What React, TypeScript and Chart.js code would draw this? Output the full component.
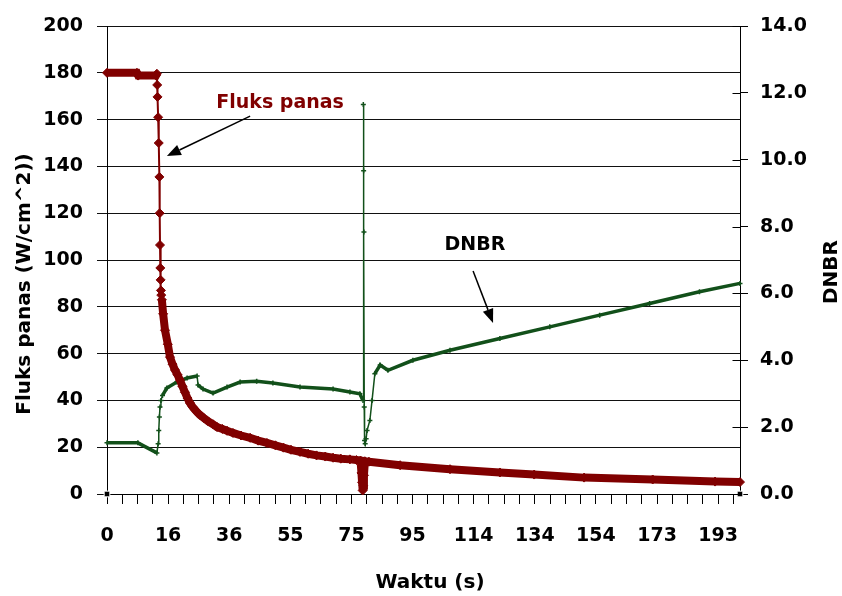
import React, { useEffect, useRef } from 'react';
import { Chart, registerables } from 'chart.js';

Chart.register(...registerables);

// ---- Axis data ----
const xTickLabels = ['0', '16', '36', '55', '75', '95', '114', '134', '154', '173', '193'];
const xLabelStep = 19.6;
const xMinorPerLabel = 4;
const xMax = 203;
const leftMax = 200;
const leftStep = 20;
const rightMax = 14;
const rightStep = 2;

// ---- Fluks panas (left axis) ----
const fluxTime = [
  0, 9.6, 10.0, 15.7, 16.0, 16.1, 16.2, 16.4, 16.6, 16.8, 16.9, 17.0, 17.1, 17.2, 17.3, 17.4, 17.6,
  18.0, 18.6, 19.5, 20.2, 21.0, 21.8, 22.6, 23.4, 24.2, 25.0, 25.8, 26.6, 27.4, 28.2, 29.0, 29.8,
  31.0, 32.5, 34.0, 35.3, 37.0, 38.5, 40.4, 43.0, 45.9, 48.5, 51.3, 54.0, 56.6, 59.0, 61.9, 64.5,
  67.2, 70.0, 72.5, 75.0, 77.9, 80.0, 81.3, 81.6, 81.8, 82.0, 82.2, 82.4, 82.7, 84.0, 94, 110, 126,
  137, 153, 175, 195, 203,
];
const fluxValue = [
  180, 180, 178.8, 178.8, 179.6, 174.8, 169.7, 161, 150, 135.5, 120, 106.4, 96.6, 91.5, 87, 85, 83,
  77, 70, 64, 58.5, 55.5, 53, 51, 48.7, 46, 43.5, 41, 38.9, 37.3, 36, 34.8, 33.8,
  32.5, 31, 29.8, 28.6, 27.8, 27, 26.1, 25, 24, 22.8, 21.8, 20.8, 19.8, 18.9, 18, 17.2,
  16.5, 16, 15.5, 15.1, 14.8, 14.5, 14.3, 9, 5, 1.5, 3.5, 8, 14, 13.8, 12.3, 10.6, 9.2,
  8.3, 7.0, 6.2, 5.3, 5.1,
];

// ---- DNBR (right axis) ----
const dnbrTime = [
  0, 9.9, 16.0, 16.4, 16.6, 16.8, 17.0, 17.3, 17.8, 19.2, 22.4, 25.7, 28.9, 29.2, 30.8, 34.0,
  38.5, 42.7, 48.0, 53.2, 61.9, 72.5, 77.9, 81.1, 82.1, 82.2, 82.3, 82.4, 82.5, 82.6, 82.8, 83.1,
  83.4, 84.3, 85.0, 85.9, 87.6, 90.1, 98.1, 110, 126, 142, 158, 174, 190, 203,
];
const dnbrValue = [
  1.53, 1.53, 1.23, 1.5, 1.9, 2.3, 2.6, 2.8, 2.95, 3.17, 3.35, 3.47, 3.53, 3.26, 3.14, 3.02,
  3.2, 3.35, 3.37, 3.32, 3.2, 3.14, 3.05, 3.0, 2.8, 11.65, 9.67, 7.84, 2.6, 1.6, 1.5, 1.65,
  1.9, 2.2, 2.8, 3.6, 3.86, 3.7, 4.0, 4.3, 4.65, 5.0, 5.35, 5.7, 6.05, 6.3,
];

// ---- End markers ----
const endMarkTime = [0, 203];
const endMarkValue = [0, 0];

// ---- Text ----
const xTitle = 'Waktu (s)';
const leftTitle = 'Fluks panas (W/cm^2))';
const rightTitle = 'DNBR';
const fluxLabel = 'Fluks panas';
const dnbrLabel = 'DNBR';

const RED = '#800000';
const GREEN = '#12501a';
const FONT = '"DejaVu Sans", "Liberation Sans", sans-serif';

function drawArrow(ctx: CanvasRenderingContext2D, x1: number, y1: number, x2: number, y2: number) {
  const ang = Math.atan2(y2 - y1, x2 - x1);
  const hl = 14;
  const hw = 5.5;
  const bx = x2 - hl * Math.cos(ang);
  const by = y2 - hl * Math.sin(ang);
  ctx.save();
  ctx.strokeStyle = '#000';
  ctx.fillStyle = '#000';
  ctx.lineWidth = 1.5;
  ctx.beginPath();
  ctx.moveTo(x1, y1);
  ctx.lineTo(bx, by);
  ctx.stroke();
  ctx.beginPath();
  ctx.moveTo(x2, y2);
  ctx.lineTo(bx + hw * Math.sin(ang), by - hw * Math.cos(ang));
  ctx.lineTo(bx - hw * Math.sin(ang), by + hw * Math.cos(ang));
  ctx.closePath();
  ctx.fill();
  ctx.restore();
}

const textPlugin = {
  id: 'textPlugin',
  afterDraw(chart: any) {
    const ctx: CanvasRenderingContext2D = chart.ctx;
    const xs = chart.scales.x;
    const ys = chart.scales.y;
    const y2s = chart.scales.y2;
    const px = (t: number) => xs.getPixelForValue(t);
    const py = (v: number) => ys.getPixelForValue(v);

    // inner half of right-axis cross tick marks
    ctx.save();
    ctx.strokeStyle = '#000';
    ctx.lineWidth = 1;
    const ax = Math.round(y2s.left) + 0.5;
    y2s.ticks.forEach((t: any) => {
      const yy = Math.round(y2s.getPixelForValue(t.value)) + 0.5;
      ctx.beginPath();
      ctx.moveTo(ax - 8, yy);
      ctx.lineTo(ax, yy);
      ctx.stroke();
    });
    ctx.restore();

    ctx.save();
    ctx.textAlign = 'center';
    ctx.textBaseline = 'middle';
    ctx.fillStyle = '#000';
    ctx.font = `bold 20px ${FONT}`;
    ctx.fillText(xTitle, 430, 583);
    ctx.save();
    ctx.translate(25, 284);
    ctx.rotate(-Math.PI / 2);
    ctx.fillText(leftTitle, 0, 0);
    ctx.restore();
    ctx.save();
    ctx.translate(832, 272);
    ctx.rotate(-Math.PI / 2);
    ctx.fillText(rightTitle, 0, 0);
    ctx.restore();

    // annotations
    ctx.font = `bold 19px ${FONT}`;
    ctx.fillStyle = RED;
    ctx.fillText(fluxLabel, px(55.5), py(167));
    ctx.fillStyle = '#000';
    ctx.fillText(dnbrLabel, px(118), py(106.4));
    ctx.restore();

    drawArrow(ctx, px(45.9), py(161.5), px(19.2), py(144.4));
    drawArrow(ctx, px(117.4), py(95.3), px(123.8), py(73.1));
  },
};

export default function App() {
  const ref = useRef<HTMLCanvasElement | null>(null);

  useEffect(() => {
    if (!ref.current) return;
    const fluxData = fluxTime.map((t, i) => ({ x: t, y: fluxValue[i] }));
    const dnbrData = dnbrTime.map((t, i) => ({ x: t, y: dnbrValue[i] }));
    const endData = endMarkTime.map((t, i) => ({ x: t, y: endMarkValue[i] }));

    const tickFont = { family: FONT, weight: 'bold' as const, size: 19 };

    const chart = new Chart(ref.current, {
      type: 'line',
      data: {
        datasets: [
          {
            label: 'Fluks panas',
            data: fluxData,
            yAxisID: 'y',
            borderColor: RED,
            backgroundColor: RED,
            pointStyle: 'rectRot',
            pointRadius: 4.5,
            pointBackgroundColor: RED,
            pointBorderColor: RED,
            pointBorderWidth: 1,
            borderWidth: 8,
            tension: 0,
            clip: 10,
            segment: {
              borderWidth: (c: any) => {
                const a = c.p0.parsed.y;
                const b = c.p1.parsed.y;
                return Math.min(a, b) >= 82.9 && Math.abs(c.p1.y - c.p0.y) > 4 * Math.abs(c.p1.x - c.p0.x) ? 2 : 8;
              },
            },
          },
          {
            label: 'DNBR',
            data: dnbrData,
            yAxisID: 'y2',
            borderColor: GREEN,
            backgroundColor: GREEN,
            pointStyle: 'cross',
            pointRadius: 2.5,
            pointBorderColor: GREEN,
            pointBorderWidth: 1.5,
            borderWidth: 3.5,
            tension: 0,
            clip: 10,
            segment: {
              borderWidth: (c: any) => (Math.abs(c.p1.y - c.p0.y) > 3 * Math.abs(c.p1.x - c.p0.x) ? 1.5 : 3.5),
            },
          },
          {
            label: 'end',
            data: endData,
            yAxisID: 'y',
            showLine: false,
            pointStyle: 'rect',
            pointRadius: 4,
            pointBackgroundColor: '#000',
            pointBorderColor: '#fff',
            pointBorderWidth: 1,
            clip: false as any,
          },
        ],
      },
      options: {
        responsive: false,
        animation: false,
        devicePixelRatio: 1,
        layout: { padding: { top: 26, left: 0, right: 0, bottom: 0 } },
        plugins: {
          legend: { display: false },
          tooltip: { enabled: false },
          title: { display: false },
        },
        scales: {
          x: {
            type: 'linear',
            position: 'bottom',
            min: 0,
            max: xMax,
            afterBuildTicks: (scale: any) => {
              const ticks: any[] = [];
              const minor = xLabelStep / xMinorPerLabel;
              for (let i = 0; i * minor <= xMax - 1; i++) ticks.push({ value: i * minor });
              scale.ticks = ticks;
            },
            afterFit: (scale: any) => {
              scale.height = 596 - 494;
            },
            ticks: {
              autoSkip: false,
              maxRotation: 0,
              minRotation: 0,
              padding: 21,
              color: '#000',
              font: tickFont,
              callback: (_v: any, i: number) => (i % xMinorPerLabel === 0 ? xTickLabels[i / xMinorPerLabel] ?? '' : ''),
            },
            grid: { drawOnChartArea: false, drawTicks: true, tickLength: 10, color: '#000', lineWidth: 1 },
            border: { display: true, color: '#000', width: 1 },
          },
          y: {
            type: 'linear',
            position: 'left',
            min: 0,
            max: leftMax,
            afterFit: (scale: any) => {
              scale.width = 107;
            },
            ticks: { stepSize: leftStep, padding: 14, color: '#000', font: tickFont },
            grid: { drawOnChartArea: true, tickLength: 10, color: '#111', lineWidth: 1 },
            border: { display: true, color: '#000', width: 1 },
          },
          y2: {
            type: 'linear',
            position: 'right',
            min: 0,
            max: rightMax,
            afterFit: (scale: any) => {
              scale.width = 842 - 740;
            },
            ticks: {
              stepSize: rightStep,
              padding: 12,
              color: '#000',
              font: tickFont,
              callback: (v: any) => Number(v).toFixed(1),
            },
            grid: { drawOnChartArea: false, tickLength: 8, color: '#000', lineWidth: 1 },
            border: { display: true, color: '#000', width: 1 },
          },
        },
      },
      plugins: [textPlugin],
    } as any);

    return () => chart.destroy();
  }, []);

  return (
    <div style={{ position: 'fixed', left: 0, top: 0, width: 842, height: 596, background: '#fff' }}>
      <canvas ref={ref} width={842} height={596} style={{ display: 'block' }} />
    </div>
  );
}
